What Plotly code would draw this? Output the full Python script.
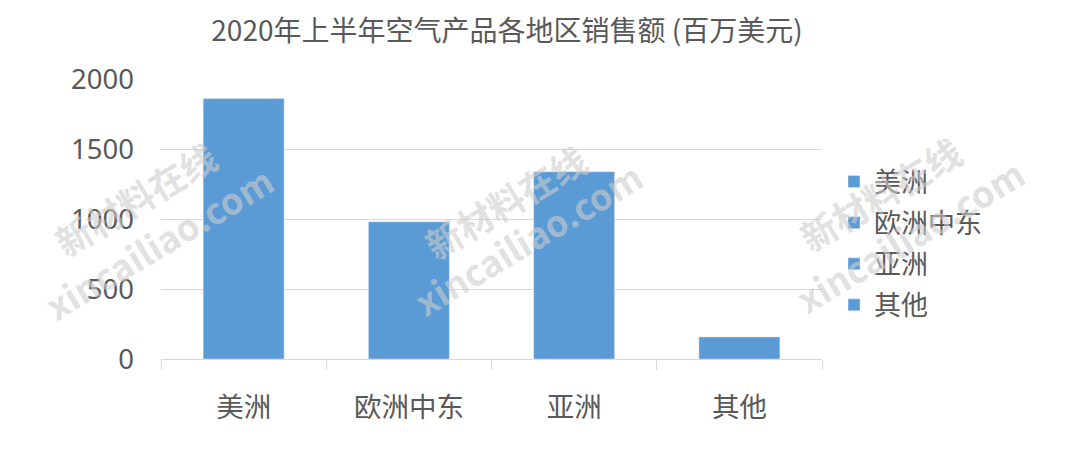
import plotly.graph_objects as go

categories = ["美洲", "欧洲中东", "亚洲", "其他"]
values = [1860, 980, 1338, 158]
y_ticks = [0, 500, 1000, 1500, 2000]
title_text = "2020年上半年空气产品各地区销售额 (百万美元)"
watermark_cn = "新材料在线"
watermark_en = "xincailiao.com"

BAR = "#5B9BD5"
TXT = "#595959"
FONT = "Noto Sans CJK SC"

W, H = 1080, 469
OFF = 8  # page body margin offset
L, R, T, B = 161 - OFF, W - (822 - OFF), 79 - OFF, H - (359 - OFF)
pw, ph = W - L - R, H - T - B

fig = go.Figure()
for c, v in zip(categories, values):
    fig.add_trace(go.Bar(
        x=[c], y=[v], name=c, marker_color=BAR, legendgroup=c,
        width=0.49,
    ))

def px(x, y):
    # screenshot pixel -> paper coords
    return (x - OFF - L) / pw, (H - B - (y - OFF)) / ph

wm_pos = [((135, 198), (158, 242)), ((505, 201), (527, 238)), ((880, 193), (909, 235))]
for (c1, c2) in wm_pos:
    for (xy, txt) in ((c1, watermark_cn), (c2, watermark_en)):
        xx, yy = px(*xy)
        fig.add_annotation(x=xx, y=yy, xref="paper", yref="paper", text=txt,
                           showarrow=False, textangle=-31, xanchor="center", yanchor="middle",
                           font=dict(family=FONT, size=36, color="rgba(205,205,205,0.6)", weight="bold"))

tx, ty = 507 - OFF, 31 - OFF
fig.update_layout(
    width=W, height=H,
    margin=dict(l=L, r=R, t=T, b=B),
    paper_bgcolor="white", plot_bgcolor="white",
    barmode="overlay",
    title=dict(text=title_text, x=tx / W, xanchor="center", y=1 - ty / H, yanchor="middle",
               font=dict(family=FONT, size=28, color=TXT)),
    font=dict(family=FONT, color=TXT, size=27),
    legend=dict(x=(826 - L) / pw, xanchor="left", y=0.4125, yanchor="middle",
                font=dict(family=FONT, size=27, color=TXT), tracegroupgap=3),
    showlegend=True,
)
fig.update_xaxes(
    categoryorder="array", categoryarray=categories,
    showline=True, linecolor="#D9D9D9", linewidth=1,
    ticks="outside", tickson="boundaries", ticklen=10, tickcolor="#D9D9D9",
    tickfont=dict(family=FONT, size=27.5, color=TXT),
    ticklabelstandoff=24,
    showgrid=False,
)
fig.update_yaxes(
    range=[0, 2000], tickvals=y_ticks, showgrid=True, gridcolor="#D9D9D9", gridwidth=1,
    zeroline=False, showline=False, ticks="",
    tickfont=dict(family="Noto Sans", size=27.5, color=TXT),
    ticklabelstandoff=26,
)
fig.write_html("out.html")
